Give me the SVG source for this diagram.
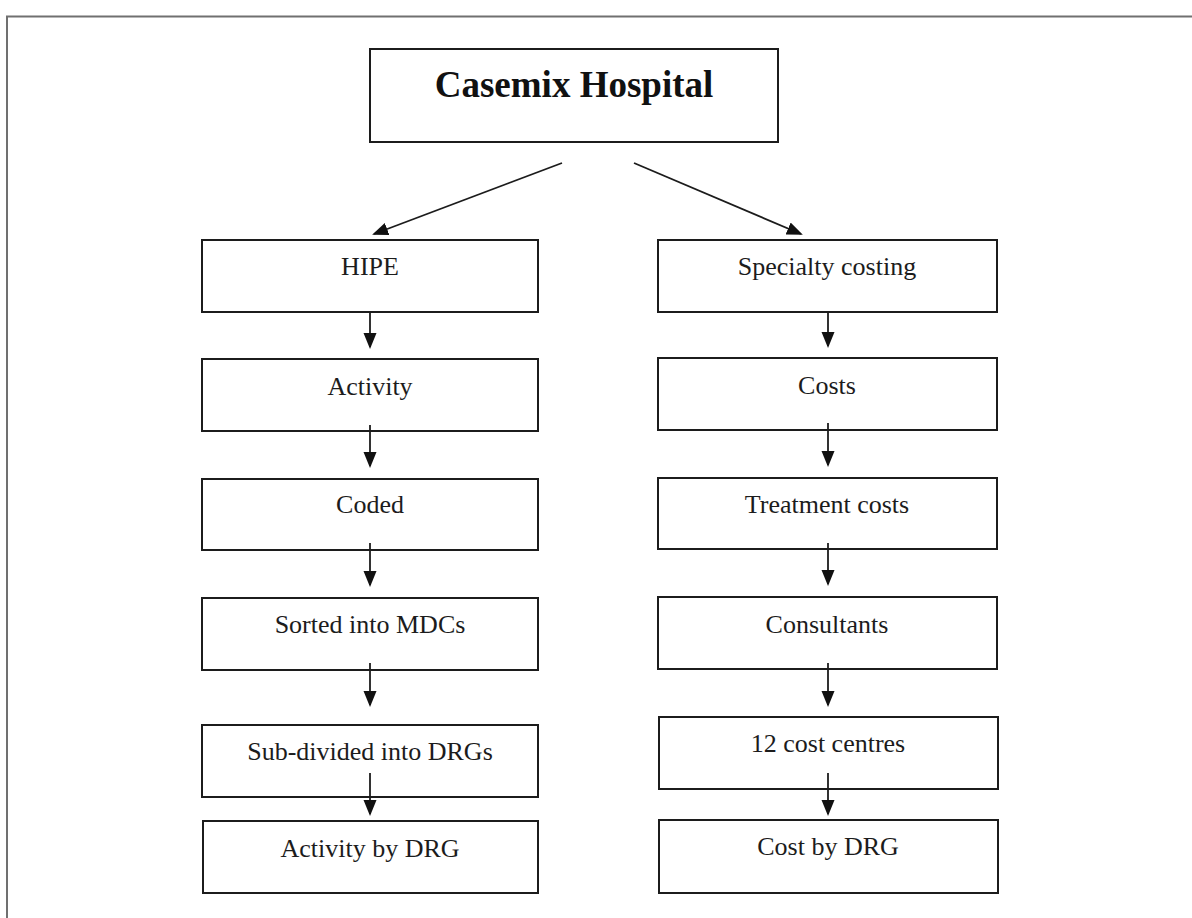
<svg xmlns="http://www.w3.org/2000/svg" width="1192" height="918" viewBox="0 0 1192 918">
<style>
.box{fill:#fff;stroke:#1c1c1c;stroke-width:2}
.lbl{font-family:"Liberation Serif","Times New Roman",serif;font-size:26px;fill:#1c1c1c;text-anchor:middle}
.title{font-family:"Liberation Serif","Times New Roman",serif;font-size:37px;font-weight:bold;fill:#111;text-anchor:middle}
.conn{stroke:#1c1c1c;stroke-width:1.8;fill:none}
</style>
<defs>
<marker id="ah" markerUnits="userSpaceOnUse" markerWidth="17" markerHeight="14" refX="14" refY="6.5" orient="auto">
<path d="M0,0 L16,6.5 L0,13 z" fill="#111"/>
</marker>
</defs>
<rect width="1192" height="918" fill="#fff"/>
<path d="M7,918 V16.5 H1192" fill="none" stroke="#707070" stroke-width="2"/>

<g id="casemix"><rect class="box" x="370" y="49" width="408" height="93"/><text class="title" x="574" y="97">Casemix Hospital</text></g>

<g id="hipe"><rect class="box" x="202" y="240" width="336" height="72"/><text class="lbl" x="370" y="275">HIPE</text></g>
<g id="activity"><rect class="box" x="202" y="359" width="336" height="72"/><text class="lbl" x="370" y="395">Activity</text></g>
<g id="coded"><rect class="box" x="202" y="479" width="336" height="71"/><text class="lbl" x="370" y="513">Coded</text></g>
<g id="sorted"><rect class="box" x="202" y="598" width="336" height="72"/><text class="lbl" x="370" y="633">Sorted into MDCs</text></g>
<g id="subdivided"><rect class="box" x="202" y="725" width="336" height="72"/><text class="lbl" x="370" y="760">Sub-divided into DRGs</text></g>
<g id="activitydrg"><rect class="box" x="203" y="821" width="335" height="72"/><text class="lbl" x="370" y="857">Activity by DRG</text></g>

<g id="specialty"><rect class="box" x="658" y="240" width="339" height="72"/><text class="lbl" x="827" y="275">Specialty costing</text></g>
<g id="costs"><rect class="box" x="658" y="358" width="339" height="72"/><text class="lbl" x="827" y="394">Costs</text></g>
<g id="treatment"><rect class="box" x="658" y="478" width="339" height="71"/><text class="lbl" x="827" y="513">Treatment costs</text></g>
<g id="consultants"><rect class="box" x="658" y="597" width="339" height="72"/><text class="lbl" x="827" y="633">Consultants</text></g>
<g id="costcentres"><rect class="box" x="659" y="717" width="339" height="72"/><text class="lbl" x="828" y="752">12 cost centres</text></g>
<g id="costdrg"><rect class="box" x="659" y="820" width="339" height="73"/><text class="lbl" x="828" y="855">Cost by DRG</text></g>

<g id="connectors">
<line class="conn" x1="562" y1="163" x2="374" y2="234" marker-end="url(#ah)"/>
<line class="conn" x1="634" y1="163" x2="801" y2="234" marker-end="url(#ah)"/>
<line class="conn" x1="370" y1="312" x2="370" y2="347" marker-end="url(#ah)"/>
<line class="conn" x1="370" y1="425" x2="370" y2="466" marker-end="url(#ah)"/>
<line class="conn" x1="370" y1="543" x2="370" y2="585" marker-end="url(#ah)"/>
<line class="conn" x1="370" y1="663" x2="370" y2="705" marker-end="url(#ah)"/>
<line class="conn" x1="370" y1="773" x2="370" y2="814" marker-end="url(#ah)"/>
<line class="conn" x1="828" y1="312" x2="828" y2="346" marker-end="url(#ah)"/>
<line class="conn" x1="828" y1="423" x2="828" y2="465" marker-end="url(#ah)"/>
<line class="conn" x1="828" y1="543" x2="828" y2="584" marker-end="url(#ah)"/>
<line class="conn" x1="828" y1="663" x2="828" y2="705" marker-end="url(#ah)"/>
<line class="conn" x1="828" y1="773" x2="828" y2="814" marker-end="url(#ah)"/>
</g>
</svg>
